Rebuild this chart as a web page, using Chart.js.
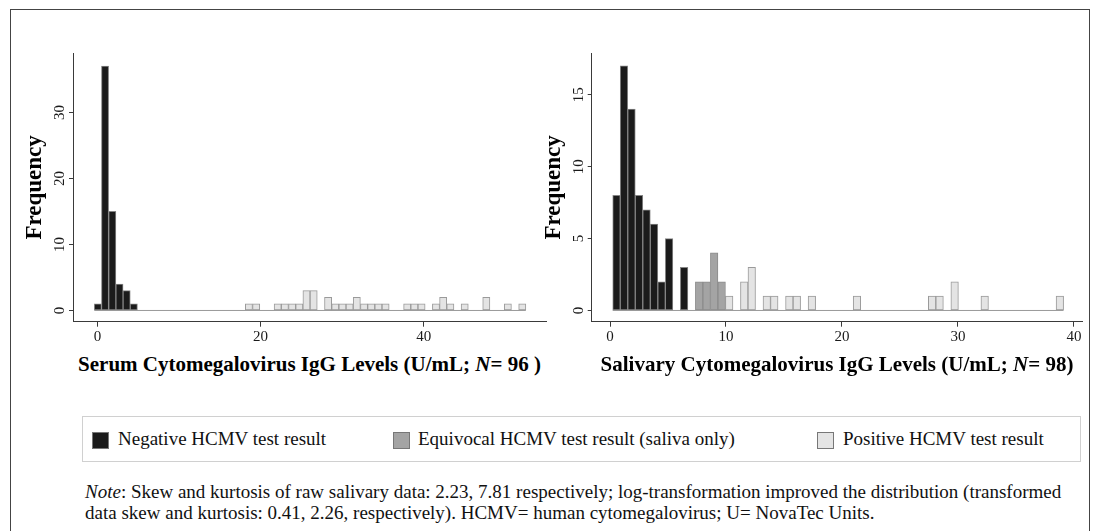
<!DOCTYPE html>
<html>
<head>
<meta charset="utf-8">
<script src="https://cdn.jsdelivr.net/npm/chart.js@4/dist/chart.umd.min.js"></script>
<style>
  body { margin: 0; background: #fff; }
  #fig { position: relative; width: 1099px; height: 531px; overflow: hidden; font-family: 'Liberation Serif', 'Times New Roman', serif; color: #111; }
  .frame { position: absolute; left: 10px; top: 9px; width: 1078px; height: 540px; border: 1px solid #444; }
  canvas { position: absolute; top: 0; }
  .xtitle { position: absolute; top: 352px; height: 24px; line-height: 24px; font-size: 21px; font-weight: bold; text-align: center; white-space: nowrap; color: #000; }
  .legend { position: absolute; left: 82px; top: 416px; width: 997px; height: 44px; border: 1px solid #d0d0d0; }
  .sw { position: absolute; top: 432px; width: 15px; height: 15px; border: 1px solid #777; }
  .lab { position: absolute; top: 428px; font-size: 19px; line-height: 22px; white-space: nowrap; }
  .note { position: absolute; left: 85px; top: 481px; font-size: 19px; line-height: 21px; white-space: nowrap; }
</style>
</head>
<body>
<div id="fig">
  <div class="frame"></div>
  <canvas id="serum" width="548" height="350" style="left:0px"></canvas>
  <canvas id="saliva" width="579" height="350" style="left:520px"></canvas>

  <div class="xtitle" style="left:73px; width:473px">Serum Cytomegalovirus IgG Levels (U/mL; <i>N</i>= 96 )</div>
  <div class="xtitle" style="left:592px; width:490px">Salivary Cytomegalovirus IgG Levels (U/mL; <i>N</i>= 98)</div>

  <div class="legend"></div>
  <div class="sw" style="left:92px; background:#1b1b1b"></div>
  <div class="lab" style="left:118px">Negative HCMV test result</div>
  <div class="sw" style="left:393px; background:#a4a4a4"></div>
  <div class="lab" style="left:418px">Equivocal HCMV test result (saliva only)</div>
  <div class="sw" style="left:817px; background:#e4e4e4"></div>
  <div class="lab" style="left:843px">Positive HCMV test result</div>

  <div class="note"><i>Note</i>: Skew and kurtosis of raw salivary data: 2.23, 7.81 respectively; log-transformation improved the distribution (transformed<br>data skew and kurtosis: 0.41, 2.26, respectively). HCMV= human cytomegalovirus; U= NovaTec Units.</div>
</div>

<script>
const FONT = "'Liberation Serif', 'Times New Roman', serif";

// serum histogram, bin centres (U/mL) and counts
const serumNegX = [0.05, 0.93, 1.82, 2.70, 3.58, 4.46];
const serumNegY = [1, 37, 15, 4, 3, 1];
const serumPosX = [18.57, 19.46, 22.10, 22.98, 23.87, 24.75, 25.63, 26.51, 28.28, 29.16, 30.04, 30.92, 31.80,
                   32.69, 33.57, 34.45, 35.33, 37.98, 38.86, 39.74, 41.51, 42.39, 43.27, 45.03, 47.68, 50.32, 52.09];
const serumPosY = [1, 1, 1, 1, 1, 1, 3, 3, 2, 1, 1, 1, 2, 1, 1, 1, 1, 1, 1, 1, 1, 2, 1, 1, 2, 1, 1];
const serumSpan = [-0.39, 52.53];
const serumXTicks = [0, 20, 40];
const serumYTicks = [0, 10, 20, 30];

// salivary histogram
const salivaNegX = [0.557, 1.205, 1.853, 2.501, 3.149, 3.797, 4.445, 5.093, 6.389];
const salivaNegY = [8, 17, 14, 8, 7, 6, 2, 5, 3];
const salivaEqX = [7.685, 8.333, 8.981, 9.629];
const salivaEqY = [2, 2, 4, 2];
const salivaPosX = [10.277, 11.573, 12.221, 13.517, 14.165, 15.461, 16.109, 17.405, 21.293, 27.773, 28.421, 29.717, 32.309, 38.789];
const salivaPosY = [1, 2, 3, 1, 1, 1, 1, 1, 1, 1, 1, 2, 1, 1];
const salivaSpan = [0.23, 39.11];
const salivaXTicks = [0, 10, 20, 30, 40];
const salivaYTicks = [0, 5, 10, 15];

const pts = (xs, ys) => xs.map((x, i) => ({ x: x, y: ys[i] }));

function bars(label, xs, ys, fill, edge) {
  return {
    type: 'bar', label: label, data: pts(xs, ys),
    backgroundColor: fill, borderColor: edge, borderWidth: 1, borderSkipped: false,
    grouped: false, barPercentage: 1, categoryPercentage: 1, order: 1
  };
}

function baseline(span) {
  return {
    type: 'line', data: span.map(x => ({ x: x, y: 0 })),
    borderColor: '#9a9a9a', borderWidth: 1, pointRadius: 0, order: 2
  };
}

function makeChart(id, datasets, o) {
  new Chart(document.getElementById(id), {
    type: 'bar',
    data: { datasets: datasets },
    options: {
      responsive: false,
      animation: false,
      devicePixelRatio: 1,
      layout: { padding: { top: 53, right: o.padRight, bottom: 0, left: 0 } },
      plugins: { legend: { display: false }, tooltip: { enabled: false } },
      scales: {
        x: {
          type: 'linear', bounds: 'data', offset: false, min: o.xMin, max: o.xMax,
          afterBuildTicks: s => { s.ticks = o.xTicks.map(v => ({ value: v })); },
          afterFit: s => { s.height = 28.3; },
          grid: { drawOnChartArea: false, offset: false, tickLength: 5, color: '#3a3a3a' },
          border: { color: '#3a3a3a', width: 1 },
          ticks: { font: { family: FONT, size: 15 }, color: '#1a1a1a', padding: 1, maxRotation: 0, autoSkip: false }
        },
        y: {
          type: 'linear', bounds: 'data', min: o.yMin, max: o.yMax,
          afterBuildTicks: s => { s.ticks = o.yTicks.map(v => ({ value: v })); },
          afterFit: s => { s.width = o.yWidth; },
          grid: { drawOnChartArea: false, tickLength: 4, color: '#3a3a3a' },
          border: { color: '#3a3a3a', width: 1 },
          ticks: { font: { family: FONT, size: 15 }, color: '#1a1a1a', padding: 1,
                   minRotation: 90, maxRotation: 90, crossAlign: 'center', autoSkip: false },
          title: { display: true, text: 'Frequency', color: '#000',
                   font: { family: FONT, size: 23, weight: 'bold' }, padding: { top: o.titlePad, bottom: 0 } }
        }
      }
    }
  });
}

makeChart('serum', [
  bars('Negative', serumNegX, serumNegY, '#1b1b1b', '#858585'),
  bars('Positive', serumPosX, serumPosY, '#e4e4e4', '#9a9a9a'),
  baseline(serumSpan)
], { xMin: -3, xMax: 55, yMin: -1.7, yMax: 39, xTicks: serumXTicks, yTicks: serumYTicks,
     yWidth: 73, padRight: 2, titlePad: 21 });

makeChart('saliva', [
  bars('Negative', salivaNegX, salivaNegY, '#1b1b1b', '#858585'),
  bars('Equivocal', salivaEqX, salivaEqY, '#a4a4a4', '#8c8c8c'),
  bars('Positive', salivaPosX, salivaPosY, '#e4e4e4', '#9a9a9a'),
  baseline(salivaSpan)
], { xMin: -1.58, xMax: 40.7, yMin: -0.78, yMax: 17.9, xTicks: salivaXTicks, yTicks: salivaYTicks,
     yWidth: 71.7, padRight: 17, titlePad: 20 });
</script>
</body>
</html>
